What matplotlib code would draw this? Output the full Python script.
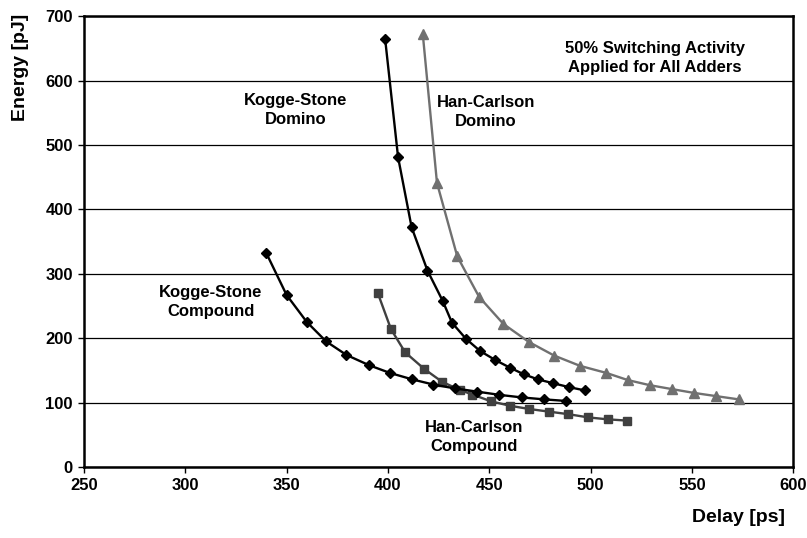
import matplotlib
matplotlib.use("Agg")
import matplotlib.pyplot as plt

plt.rcParams['font.family'] = ['Liberation Sans', 'DejaVu Sans']
plt.rcParams['font.weight'] = 'bold'

# Kogge-Stone Domino
ks_dom_delay = [398.6, 405, 411.7, 419.5, 427, 431.6, 438.5, 445.5, 453, 460.3, 467, 474, 481.6, 489.3, 497]
ks_dom_energy = [665, 481, 372, 305, 258, 224, 199, 180, 166, 154, 144, 136, 130, 124, 119]

# Han-Carlson Domino
hc_dom_delay = [417.2, 424.2, 434.2, 445, 457, 469.6, 482, 494.8, 507.8, 518.3, 529.2, 540, 551, 562, 573]
hc_dom_energy = [672, 441, 327, 264, 222, 194, 173, 157, 146, 135, 127, 121, 115, 110, 105]

# Kogge-Stone Compound
ks_cmp_delay = [340, 350, 360, 369.5, 379.5, 390.7, 401, 412, 422.4, 433, 444, 455, 466, 477, 488]
ks_cmp_energy = [332, 267, 225, 195, 174, 158, 146, 136, 128, 122, 117, 112, 108, 105, 102.5]

# Han-Carlson Compound
hc_cmp_delay = [395, 401.5, 408.5, 418, 426.6, 435.5, 441.7, 450.8, 460.3, 469.8, 479.3, 489, 498.8, 508.4, 518]
hc_cmp_energy = [270, 214, 178, 152, 132.5, 119.5, 112.5, 102, 95, 90, 86, 82, 77, 74, 72]

fig = plt.figure(figsize=(8.07, 5.38), dpi=100)
ax = fig.add_axes([0.104, 0.132, 0.879, 0.838])

ax.plot(ks_dom_delay, ks_dom_energy, color='black', lw=1.7, marker='D', ms=4.8, zorder=4)
ax.plot(hc_dom_delay, hc_dom_energy, color='#707070', lw=1.7, marker='^', ms=6.5, zorder=3)
ax.plot(ks_cmp_delay, ks_cmp_energy, color='black', lw=1.7, marker='D', ms=4.8, zorder=4)
ax.plot(hc_cmp_delay, hc_cmp_energy, color='#404040', lw=1.7, marker='s', ms=6, zorder=3)

ax.set_xlim(250, 600)
ax.set_ylim(0, 700)
ax.set_xticks(range(250, 601, 50))
ax.set_yticks(range(0, 701, 100))
ax.yaxis.grid(True, color='black', lw=0.9)
ax.set_axisbelow(True)
for s in ax.spines.values():
    s.set_linewidth(1.8)
ax.tick_params(direction='out', length=4, width=1, labelsize=12, pad=4)
for lab in ax.get_xticklabels() + ax.get_yticklabels():
    lab.set_fontweight('bold')

fig.text(0.915, 0.038, "Delay [ps]", fontsize=14, fontweight='bold', ha='center', va='center')
fig.text(0.026, 0.875, "Energy [pJ]", fontsize=14, fontweight='bold', ha='center', va='center', rotation=90)

lab_kw = dict(fontsize=12, fontweight='bold', ha='center', va='center', linespacing=1.3)
ax.text(354.6, 554, "Kogge-Stone\nDomino", **lab_kw)
ax.text(448.4, 551, "Han-Carlson\nDomino", **lab_kw)
ax.text(312.7, 256, "Kogge-Stone\nCompound", **lab_kw)
ax.text(442.5, 47, "Han-Carlson\nCompound", **lab_kw)
ax.text(531.8, 635, "50% Switching Activity\nApplied for All Adders", **lab_kw)

fig.savefig("out.png", dpi=100)
